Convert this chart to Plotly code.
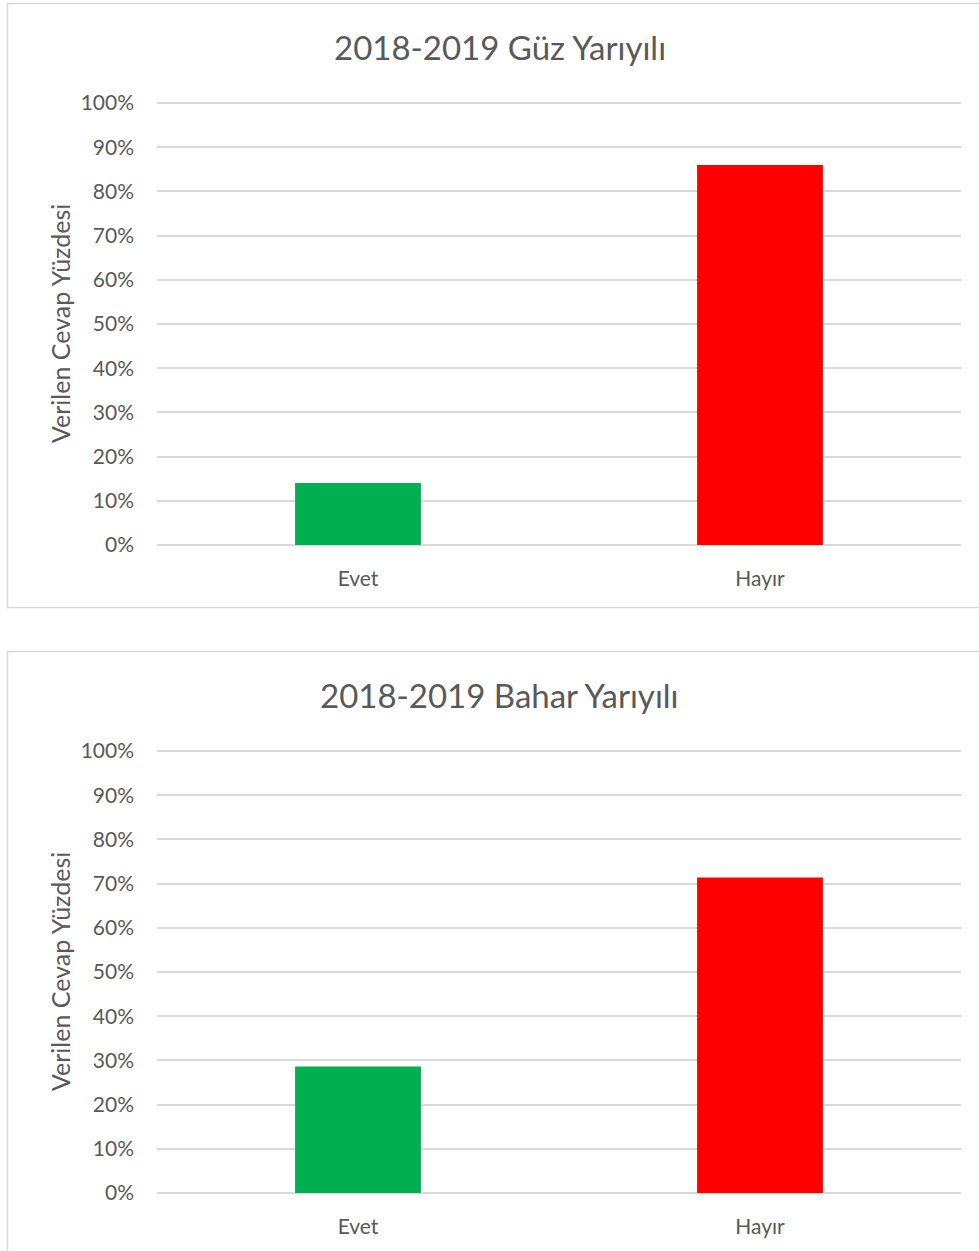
import plotly.graph_objects as go
from plotly.subplots import make_subplots

W, H = 979, 1251

# ------------------------------------------------------------
# Dados
# ------------------------------------------------------------
categorias = ["Evet", "Hayır"]
guz_valores = [14.0, 86.0]
bahar_valores = [28.6, 71.4]
cores = ["#00b050", "#ff0000"]
titulos = ["2018-2019 Güz Yarıyılı", "2018-2019 Bahar Yarıyılı"]
tick_vals = list(range(0, 101, 10))
tick_text = [f"{v}%" for v in tick_vals]

FONTE = "Lato, Open Sans, sans-serif"
CINZA_TXT = "#595959"
CINZA_GRADE = "#d9d9d9"


def px_x(p):
    return p / W


def px_y(p):
    return 1 - p / H


fig = make_subplots(rows=2, cols=1)

for i, valores in enumerate([guz_valores, bahar_valores]):
    fig.add_trace(
        go.Bar(x=categorias, y=valores, marker_color=cores, marker_line_width=0, width=0.313),
        row=i + 1, col=1,
    )

# posições (pixels) de cada painel: topo do eixo (100%), base (0%) e moldura
paineis = [(102, 546, 3.5, 607.5), (750, 1194, 651.5, 1262)]

for i, (topo, base, caixa_top, caixa_base) in enumerate(paineis):
    eixo = "" if i == 0 else str(i + 1)
    fig.layout["xaxis" + eixo].update(
        domain=[px_x(157), px_x(961)], automargin=False,
        showgrid=False, zeroline=False, showline=False, ticks="",
        ticklabelstandoff=18,
        tickfont=dict(family=FONTE, size=21, color=CINZA_TXT),
    )
    fig.layout["yaxis" + eixo].update(
        domain=[px_y(base + 0.3), px_y(topo - 0.3)], automargin=False,
        range=[-0.3, 100.3], tickvals=tick_vals, ticktext=tick_text,
        showgrid=True, gridcolor=CINZA_GRADE, gridwidth=1.5,
        zeroline=False, showline=False, ticks="", ticklabelstandoff=22,
        tickfont=dict(family=FONTE, size=21, color=CINZA_TXT),
    )
    # moldura do gráfico
    fig.add_shape(
        type="rect", xref="paper", yref="paper",
        x0=px_x(7.5), x1=px_x(995), y0=px_y(caixa_base), y1=px_y(caixa_top),
        line=dict(color=CINZA_GRADE, width=1.5), fillcolor="rgba(0,0,0,0)",
    )
    # título
    fig.add_annotation(
        text=titulos[i], xref="paper", yref="paper",
        x=px_x(500), y=px_y(topo - 55), xanchor="center", yanchor="middle",
        showarrow=False,
        font=dict(family=FONTE, size=33, color=CINZA_TXT),
    )
    # título do eixo y
    fig.add_annotation(
        text="Verilen Cevap Yüzdesi", xref="paper", yref="paper",
        x=px_x(60), y=px_y((topo + base) / 2), xanchor="center", yanchor="middle",
        showarrow=False, textangle=-90,
        font=dict(family=FONTE, size=25, color=CINZA_TXT),
    )

fig.update_layout(
    width=W, height=H,
    margin=dict(l=0, r=0, t=0, b=0),
    paper_bgcolor="white", plot_bgcolor="white",
    showlegend=False,
)

fig.write_html(
    "out.html",
    config={"displayModeBar": False},
    post_script="document.body.style.margin='0';",
)
